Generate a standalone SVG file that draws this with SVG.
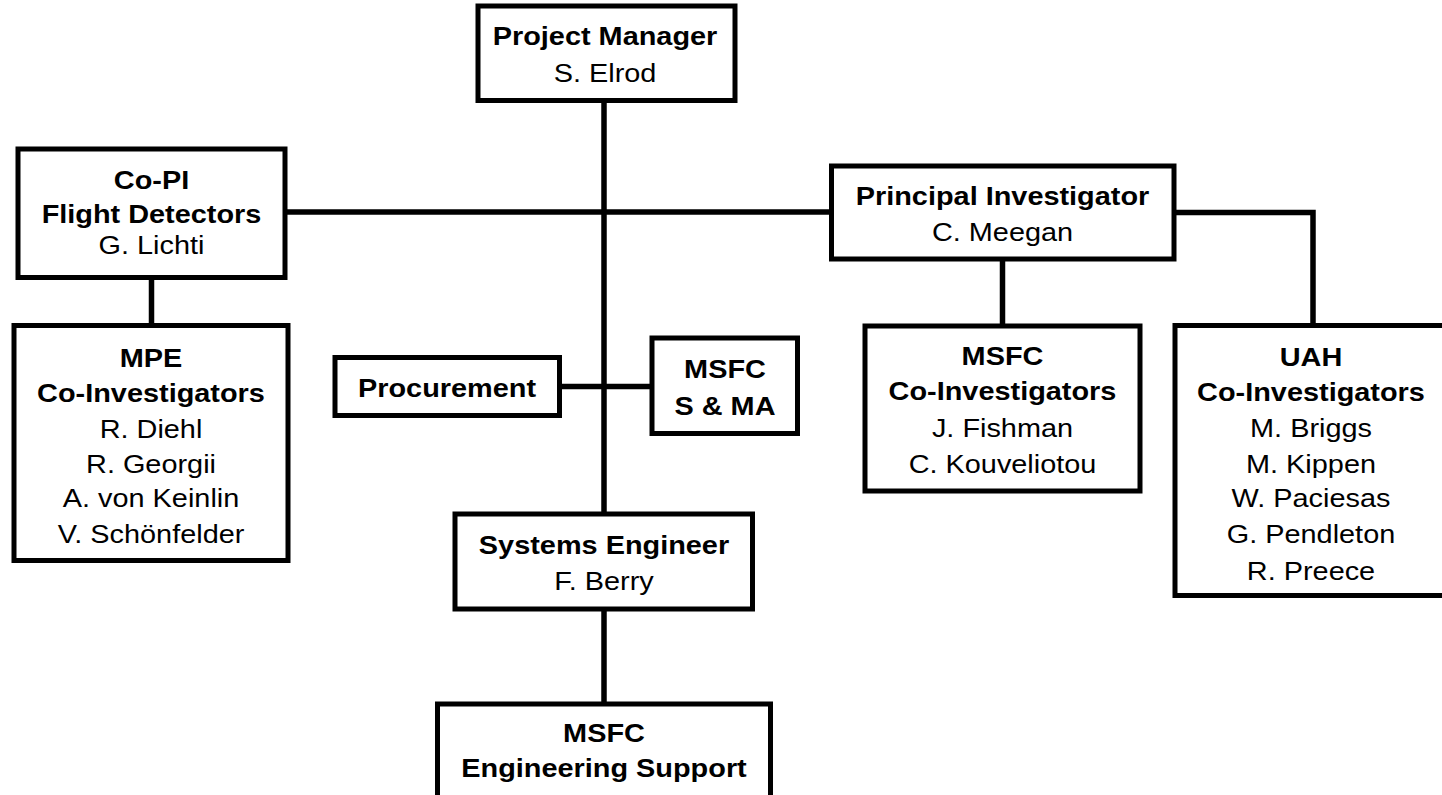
<svg xmlns="http://www.w3.org/2000/svg" width="1442" height="795" viewBox="0 0 1442 795">
<style>
.box{fill:#fff;stroke:#000;stroke-width:5}
.con{fill:none;stroke:#000;stroke-width:5.5}
text{font-family:"Liberation Sans",Arial,sans-serif;font-size:25px;fill:#000;text-anchor:middle}
.b{font-weight:bold}
</style>
<rect width="1442" height="795" fill="#fff"/>
<g id="connectors">
<line class="con" x1="604" y1="100" x2="604" y2="514"/>
<line class="con" x1="285" y1="212" x2="832" y2="212"/>
<line class="con" x1="151.5" y1="277" x2="151.5" y2="326"/>
<line class="con" x1="559" y1="386.5" x2="652" y2="386.5"/>
<line class="con" x1="1002.5" y1="259" x2="1002.5" y2="326"/>
<path class="con" d="M1174,212.5 H1313 V326"/>
<line class="con" x1="604" y1="609" x2="604" y2="704"/>
</g>
<g id="project-manager">
<rect class="box" x="478" y="6" width="257" height="94.5"/>
<g transform="translate(605,0) scale(1.155,1)">
<text class="b" x="0" y="45">Project Manager</text>
<text x="0" y="82">S. Elrod</text>
</g>
</g>
<g id="co-pi">
<rect class="box" x="18" y="149" width="267" height="128.5"/>
<g transform="translate(151.5,0) scale(1.155,1)">
<text class="b" x="0" y="189">Co-PI</text>
<text class="b" x="0" y="223">Flight Detectors</text>
<text x="0" y="254">G. Lichti</text>
</g>
</g>
<g id="mpe">
<rect class="box" x="14" y="325.5" width="274" height="235"/>
<g transform="translate(151,0) scale(1.155,1)">
<text class="b" x="0" y="367">MPE</text>
<text class="b" x="0" y="402">Co-Investigators</text>
<text x="0" y="438">R. Diehl</text>
<text x="0" y="473">R. Georgii</text>
<text x="0" y="507.5">A. von Keinlin</text>
<text x="0" y="543">V. Schönfelder</text>
</g>
</g>
<g id="procurement">
<rect class="box" x="335" y="357.5" width="224.5" height="58"/>
<g transform="translate(447,0) scale(1.155,1)">
<text class="b" x="0" y="397">Procurement</text>
</g>
</g>
<g id="msfc-sma">
<rect class="box" x="652" y="338" width="145.5" height="95.5"/>
<g transform="translate(725,0) scale(1.155,1)">
<text class="b" x="0" y="378">MSFC</text>
<text class="b" x="0" y="415">S &amp; MA</text>
</g>
</g>
<g id="principal-investigator">
<rect class="box" x="831.5" y="166" width="342.5" height="93"/>
<g transform="translate(1002.5,0) scale(1.155,1)">
<text class="b" x="0" y="205">Principal Investigator</text>
<text x="0" y="241.5">C. Meegan</text>
</g>
</g>
<g id="msfc-co-investigators">
<rect class="box" x="865" y="326" width="275" height="165"/>
<g transform="translate(1002.5,0) scale(1.155,1)">
<text class="b" x="0" y="365">MSFC</text>
<text class="b" x="0" y="400">Co-Investigators</text>
<text x="0" y="437.5">J. Fishman</text>
<text x="0" y="473">C. Kouveliotou</text>
</g>
</g>
<g id="uah-co-investigators">
<rect class="box" x="1175" y="325.5" width="272" height="270"/>
<g transform="translate(1311,0) scale(1.155,1)">
<text class="b" x="0" y="366.5">UAH</text>
<text class="b" x="0" y="401">Co-Investigators</text>
<text x="0" y="437">M. Briggs</text>
<text x="0" y="473">M. Kippen</text>
<text x="0" y="507">W. Paciesas</text>
<text x="0" y="543.5">G. Pendleton</text>
<text x="0" y="580">R. Preece</text>
</g>
</g>
<g id="systems-engineer">
<rect class="box" x="455" y="514" width="297.5" height="95"/>
<g transform="translate(604,0) scale(1.155,1)">
<text class="b" x="0" y="554">Systems Engineer</text>
<text x="0" y="590">F. Berry</text>
</g>
</g>
<g id="msfc-engineering-support">
<rect class="box" x="437.5" y="704" width="333" height="120"/>
<g transform="translate(604,0) scale(1.155,1)">
<text class="b" x="0" y="742">MSFC</text>
<text class="b" x="0" y="777">Engineering Support</text>
</g>
</g>
</svg>
